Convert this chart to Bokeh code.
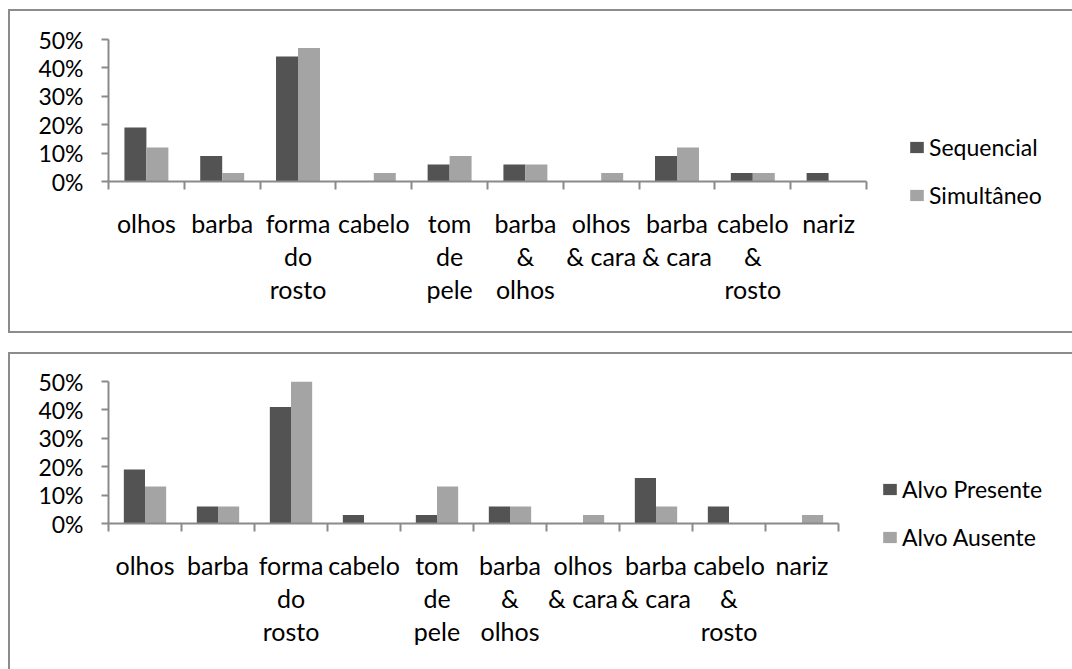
from bokeh.plotting import figure
from bokeh.models import (ColumnDataSource, Range1d, FixedTicker, PrintfTickFormatter,
                          Legend, LegendItem)
from bokeh.layouts import column
from bokeh.transform import dodge
from bokeh.embed import file_html
from bokeh.resources import INLINE

# Face features named by participants (% of answers per condition)
categories = ["olhos", "barba", "forma do rosto", "cabelo", "tom de pele",
              "barba & olhos", "olhos & cara", "barba & cara", "cabelo & rosto", "nariz"]
category_labels = ["olhos", "barba", "forma\ndo\nrosto", "cabelo", "tom\nde\npele",
                   "barba\n&\nolhos", "olhos\n& cara", "barba\n& cara", "cabelo\n&\nrosto", "nariz"]

sequencial = [19, 9, 44, 0, 6, 6, 0, 9, 3, 3]
simultaneo = [12, 3, 47, 3, 9, 6, 3, 12, 3, 0]

alvo_presente = [19, 6, 41, 3, 3, 6, 0, 16, 6, 0]
alvo_ausente = [13, 6, 50, 0, 13, 6, 3, 6, 0, 3]

y_ticks = [0, 10, 20, 30, 40, 50]

DARK = "#535353"
LIGHT = "#a4a4a4"
AXIS = "#8a8a8a"
FONT = "Lato"
CANVAS_W = 1062


def panel(series_a, series_b, name_a, name_b, frame_w, canvas_h, min_top, min_bottom,
          legend_xy, margin):
    n = len(categories)
    centers = [i + 0.5 for i in range(n)]
    src = ColumnDataSource(dict(x=centers, a=series_a, b=series_b))

    p = figure(frame_width=frame_w, frame_height=142,
               x_range=Range1d(0, n), y_range=Range1d(0, 50),
               output_backend="svg", toolbar_location=None,
               min_border_left=98, min_border_right=CANVAS_W - 98 - frame_w,
               min_border_top=min_top, min_border_bottom=min_bottom)
    p.outline_line_color = None
    p.xgrid.visible = False
    p.ygrid.visible = False

    # two series side by side within each category
    ra = p.vbar(x=dodge("x", -0.145, range=p.x_range), top="a", width=0.29,
                source=src, fill_color=DARK, line_color=None)
    rb = p.vbar(x=dodge("x", 0.145, range=p.x_range), top="b", width=0.29,
                source=src, fill_color=LIGHT, line_color=None)

    ya = p.yaxis[0]
    ya.ticker = FixedTicker(ticks=y_ticks, minor_ticks=[])
    ya.formatter = PrintfTickFormatter(format="%d%%")
    ya.axis_line_color = AXIS
    ya.axis_line_width = 2
    ya.major_tick_line_color = AXIS
    ya.major_tick_line_width = 2
    ya.major_tick_out = 7
    ya.major_tick_in = 0
    ya.minor_tick_line_color = None
    ya.major_label_standoff = 18
    ya.major_label_text_font = FONT
    ya.major_label_text_font_size = "23px"
    ya.major_label_text_color = "black"

    # labels sit at category centres, tick marks at the category boundaries
    xa = p.xaxis[0]
    xa.ticker = FixedTicker(ticks=centers, minor_ticks=list(range(n + 1)))
    xa.major_label_overrides = {c: lbl for c, lbl in zip(centers, category_labels)}
    xa.axis_line_color = AXIS
    xa.axis_line_width = 2
    xa.major_tick_line_color = None
    xa.major_tick_out = 8
    xa.major_tick_in = 0
    xa.minor_tick_line_color = AXIS
    xa.minor_tick_line_width = 2
    xa.minor_tick_out = 8
    xa.minor_tick_in = 0
    xa.major_label_standoff = 18
    xa.major_label_text_font = FONT
    xa.major_label_text_font_size = "25px"
    xa.major_label_text_color = "black"
    xa.major_label_text_line_height = 1.1

    legend = Legend(items=[LegendItem(label=name_a, renderers=[ra]),
                           LegendItem(label=name_b, renderers=[rb])],
                    location=legend_xy, orientation="vertical",
                    padding=0, margin=0, spacing=20,
                    glyph_width=17, glyph_height=14, label_height=28,
                    label_standoff=4,
                    label_text_font=FONT, label_text_font_size="23px",
                    label_text_color="black",
                    border_line_color=None, background_fill_alpha=0)
    p.add_layout(legend, "right")

    # panel frame drawn around the whole chart area
    p.styles = {"box-shadow": "0 0 0 2px #8c8c8c"}
    p.margin = margin
    return p


top = panel(sequencial, simultaneo, "Sequencial", "Simultâneo",
            frame_w=758, canvas_h=320, min_top=28, min_bottom=150,
            legend_xy=(42, -28), margin=(11, 0, 0, 10))
bottom = panel(alvo_presente, alvo_ausente, "Alvo Presente", "Alvo Ausente",
               frame_w=730, canvas_h=315, min_top=27, min_bottom=146,
               legend_xy=(43, -28), margin=(23, 0, 0, 10))

layout = column(top, bottom, spacing=0)
open("out.html", "w").write(file_html(layout, INLINE))
